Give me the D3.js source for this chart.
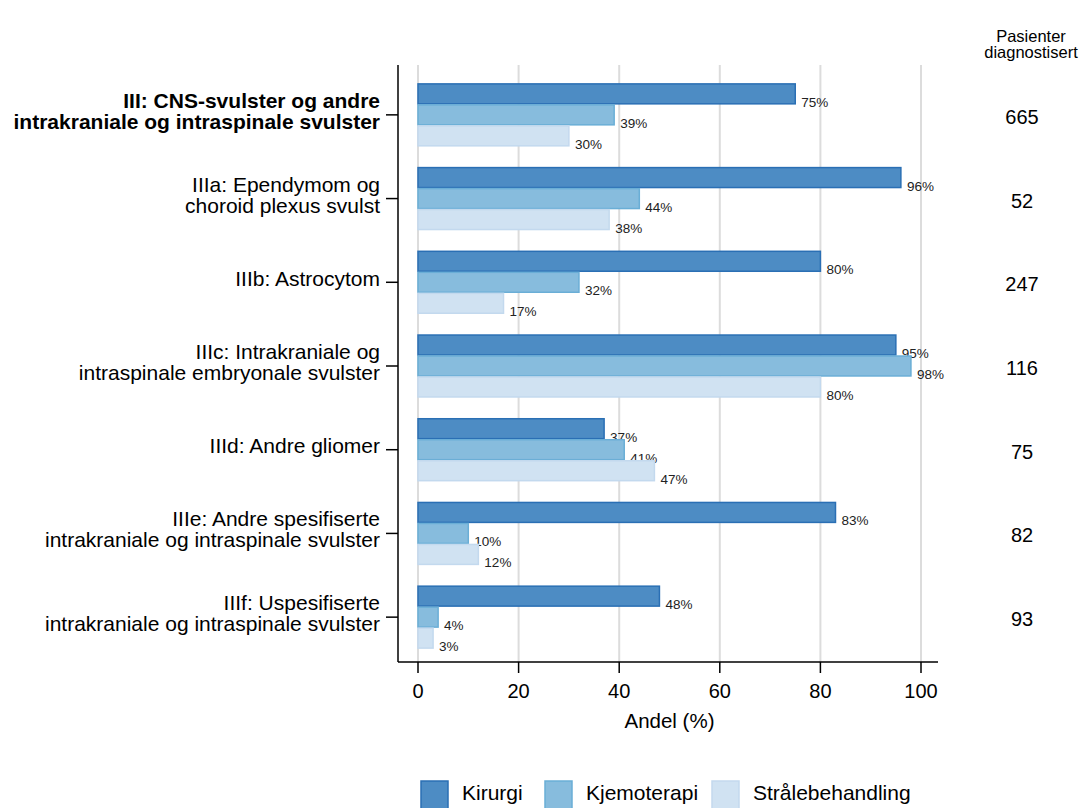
<!DOCTYPE html>
<html><head><meta charset="utf-8">
<script src="https://cdn.jsdelivr.net/npm/d3@7"></script>
<style>body{margin:0;background:#fff;font-family:"Liberation Sans",Arial,sans-serif;}</style>
</head><body><svg id="c" width="1083" height="808"></svg>
<script>
const categories = [
  ["III: CNS-svulster og andre", "intrakraniale og intraspinale svulster"],
  ["IIIa: Ependymom og", "choroid plexus svulst"],
  ["IIIb: Astrocytom"],
  ["IIIc: Intrakraniale og", "intraspinale embryonale svulster"],
  ["IIId: Andre gliomer"],
  ["IIIe: Andre spesifiserte", "intrakraniale og intraspinale svulster"],
  ["IIIf: Uspesifiserte", "intrakraniale og intraspinale svulster"]
];
const seriesNames = ["Kirurgi", "Kjemoterapi", "Strålebehandling"];
const kirurgi = [75, 96, 80, 95, 37, 83, 48];
const kjemoterapi = [39, 44, 32, 98, 41, 10, 4];
const straale = [30, 38, 17, 80, 47, 12, 3];
const patients = [665, 52, 247, 116, 75, 82, 93];
const xTicks = [0, 20, 40, 60, 80, 100];

const series = [kirurgi, kjemoterapi, straale];
const fills = ["#4d8cc4", "#87bcdd", "#d0e2f2"];
const strokes = ["#2a6fb4", "#6aaed6", "#c3d9ee"];

const svg = d3.select("#c");
const x = d3.scaleLinear().domain([0, 100]).range([418, 921]);
const ids = categories.map((d, i) => i);
const y = d3.scaleBand().domain(ids).range([73, 659]).paddingInner(0.26).paddingOuter(0.13);
const ySub = d3.scaleBand().domain([0, 1, 2]).range([0, y.bandwidth()]).paddingInner(0.05);

// grid
svg.append("g").selectAll("line").data(xTicks).join("line")
  .attr("x1", d => x(d)).attr("x2", d => x(d)).attr("y1", 65).attr("y2", 662)
  .attr("stroke", "#dcdcdc").attr("stroke-width", 2);

// bars
series.forEach((vals, s) => {
  const g = svg.append("g");
  g.selectAll("rect").data(vals).join("rect")
    .attr("x", x(0)).attr("y", (d, i) => y(i) + ySub(s))
    .attr("width", d => x(d) - x(0)).attr("height", ySub.bandwidth())
    .attr("fill", fills[s]).attr("stroke", strokes[s]).attr("stroke-width", 1.5);
  g.selectAll("text").data(vals).join("text")
    .attr("x", d => x(d) + 6).attr("y", (d, i) => y(i) + ySub(s) + ySub.bandwidth() + 3)
    .attr("font-size", 13.5).attr("fill", "#222").text(d => d + "%");
});

// axes lines
svg.append("line").attr("x1", 398).attr("x2", 398).attr("y1", 65).attr("y2", 662).attr("stroke", "#000").attr("stroke-width", 1.5);
svg.append("line").attr("x1", 398).attr("x2", 938).attr("y1", 662).attr("y2", 662).attr("stroke", "#000").attr("stroke-width", 1.5);
const cy = i => y(i) + y.bandwidth() / 2;
svg.append("g").selectAll("line").data(ids).join("line")
  .attr("x1", 386).attr("x2", 398).attr("y1", cy).attr("y2", cy).attr("stroke", "#000").attr("stroke-width", 1.5);
const lab = svg.append("g").selectAll("text").data(ids).join("text")
  .attr("text-anchor", "end").attr("font-size", 21).attr("fill", "#000")
  .attr("font-weight", i => i === 0 ? "bold" : "normal");
lab.each(function(i) {
  const lines = categories[i];
  const t = d3.select(this);
  const base = cy(i) + 3.5 - (lines.length - 1) * 10.5;
  lines.forEach((l, k) => t.append("tspan").attr("x", 380).attr("y", base + k * 21).text(l));
});

// x axis ticks
svg.append("g").selectAll("line").data(xTicks).join("line")
  .attr("x1", d => x(d)).attr("x2", d => x(d)).attr("y1", 662).attr("y2", 673).attr("stroke", "#000").attr("stroke-width", 1.5);
svg.append("g").selectAll("text").data(xTicks).join("text")
  .attr("x", d => x(d)).attr("y", 698).attr("text-anchor", "middle").attr("font-size", 20).text(d => d);
svg.append("text").attr("x", x(50)).attr("y", 728).attr("text-anchor", "middle").attr("font-size", 20.5).text("Andel (%)");

// right column
svg.append("text").attr("x", 1031).attr("y", 42).attr("text-anchor", "middle").attr("font-size", 16.5).text("Pasienter");
svg.append("text").attr("x", 1031).attr("y", 58).attr("text-anchor", "middle").attr("font-size", 16.5).text("diagnostisert");
svg.append("g").selectAll("text").data(patients).join("text")
  .attr("x", 1022).attr("y", (d, i) => cy(i) + 9).attr("text-anchor", "middle").attr("font-size", 20).text(d => d);

// legend
const legX = [421, 545, 712];
seriesNames.forEach((n, s) => {
  svg.append("rect").attr("x", legX[s]).attr("y", 781).attr("width", 27).attr("height", 30)
    .attr("fill", fills[s]).attr("stroke", strokes[s]).attr("stroke-width", 1.5);
  svg.append("text").attr("x", legX[s] + 41).attr("y", 800).attr("font-size", 21).text(n);
});
</script></body></html>
